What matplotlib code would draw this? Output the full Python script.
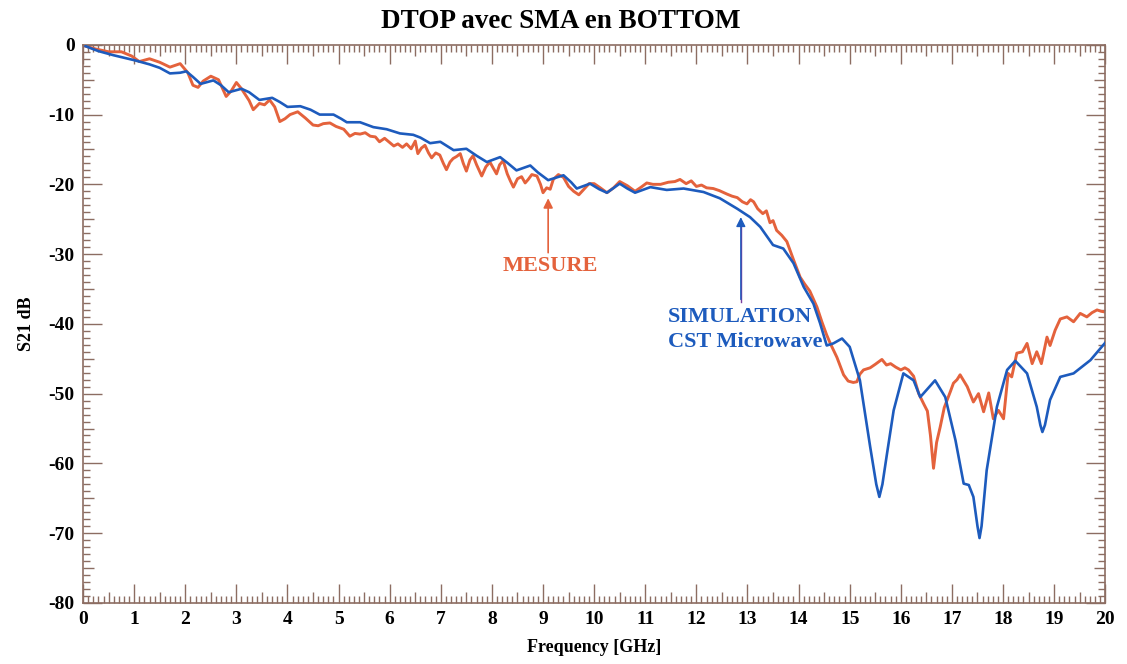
import matplotlib.pyplot as plt
import numpy as np

plt.rcParams['axes.unicode_minus'] = False

mes_f = [0.05, 0.25, 0.5, 0.75, 0.95, 1.1, 1.3, 1.5, 1.7, 1.9, 2.05, 2.15, 2.25, 2.35, 2.5, 2.65,
         2.8, 2.9, 3.0, 3.1, 3.25, 3.33, 3.45, 3.55, 3.65, 3.75, 3.85, 3.95, 4.05, 4.2, 4.35, 4.5,
         4.6, 4.7, 4.83, 4.95, 5.1, 5.22, 5.32, 5.42, 5.52, 5.62, 5.72, 5.8, 5.9, 6.0, 6.08, 6.16,
         6.25, 6.33, 6.42, 6.5, 6.55, 6.62, 6.69, 6.76, 6.82, 6.9, 6.98, 7.05, 7.11, 7.18, 7.24,
         7.31, 7.38, 7.44, 7.5, 7.57, 7.63, 7.7, 7.8, 7.88, 7.96, 8.02, 8.09, 8.15, 8.22, 8.3, 8.36,
         8.42, 8.5, 8.58, 8.65, 8.71, 8.78, 8.88, 8.95, 9.0, 9.07, 9.14, 9.2, 9.3, 9.4, 9.5, 9.6,
         9.7, 9.8, 9.9, 10.0, 10.12, 10.25, 10.38, 10.5, 10.65, 10.8, 10.92, 11.03, 11.15, 11.3,
         11.45, 11.58, 11.68, 11.8, 11.9, 12.0, 12.1, 12.2, 12.33, 12.45, 12.6, 12.7, 12.8, 12.9,
         12.99, 13.06, 13.12, 13.2, 13.3, 13.37, 13.44, 13.5, 13.57, 13.67, 13.77, 13.9, 14.03,
         14.12, 14.22, 14.36, 14.46, 14.55, 14.62, 14.75, 14.88, 14.97, 15.07, 15.14, 15.2, 15.27,
         15.4, 15.5, 15.63, 15.72, 15.8, 15.9, 16.0, 16.08, 16.15, 16.25, 16.35, 16.45, 16.52,
         16.58, 16.64, 16.7, 16.77, 16.85, 16.97, 17.03, 17.1, 17.16, 17.3, 17.42, 17.52, 17.62,
         17.72, 17.81, 17.91, 18.01, 18.1, 18.17, 18.27, 18.38, 18.47, 18.57, 18.66, 18.75, 18.86,
         18.92, 19.02, 19.12, 19.25, 19.38, 19.51, 19.64, 19.74, 19.84, 19.92, 20.0]
mes_db = [-0.2, -0.6, -1.0, -1.0, -1.6, -2.4, -2.0, -2.5, -3.2, -2.7, -4.0, -5.8, -6.1, -5.2, -4.5, -5.0,
          -7.4, -6.6, -5.4, -6.3, -8.0, -9.3, -8.4, -8.6, -7.9, -8.9, -11.0, -10.6, -10.0, -9.6, -10.5, -11.5,
          -11.6, -11.3, -11.2, -11.7, -12.1, -13.1, -12.7, -12.8, -12.6, -13.1, -13.2, -13.9, -13.4, -14.0, -14.5, -14.2,
          -14.7, -14.2, -14.9, -13.8, -15.6, -14.8, -14.4, -15.5, -16.2, -15.5, -15.8, -17.0, -17.9, -16.8, -16.3,
          -16.0, -15.6, -17.0, -18.1, -16.5, -15.9, -17.2, -18.8, -17.5, -16.8, -17.6, -18.5, -17.2, -16.6, -18.5, -19.5,
          -20.4, -19.2, -18.9, -19.8, -19.3, -18.6, -18.8, -20.0, -21.2, -20.5, -20.7, -19.3, -18.6, -19.0, -20.3, -21.0,
          -21.5, -20.7, -19.9, -19.9, -20.5, -21.2, -20.5, -19.6, -20.2, -21.0, -20.4, -19.8, -20.0, -20.0,
          -19.7, -19.6, -19.3, -19.9, -19.5, -20.3, -20.1, -20.5, -20.6, -20.9, -21.4, -21.7, -21.9, -22.5,
          -22.8, -22.2, -22.5, -23.5, -24.2, -23.8, -25.5, -25.2, -26.6, -27.3, -28.2, -30.8, -33.3,
          -34.3, -35.3, -37.6, -39.8, -41.6, -42.8, -44.8, -47.3, -48.2, -48.4, -48.3, -47.2, -46.6,
          -46.3, -45.8, -45.1, -45.9, -45.7, -46.2, -46.6, -46.3, -46.6, -47.5, -50.0, -51.5, -52.5,
          -56.0, -60.7, -57.0, -54.8, -52.0, -49.7, -48.5, -48.0, -47.3, -49.0, -51.2, -50.0, -52.6,
          -49.9, -53.6, -52.4, -53.6, -47.1, -47.6, -44.2, -44.0, -42.8, -45.7, -44.0, -45.7, -41.9,
          -43.1, -40.9, -39.3, -39.0, -39.7, -38.5, -39.0, -38.4, -38.0, -38.2, -38.3]

# CST simulation
sim_f = [0.05, 0.3, 0.6, 1.0, 1.3, 1.5, 1.7, 1.9, 2.02, 2.15, 2.3, 2.55, 2.7, 2.85, 3.1, 3.25, 3.45,
         3.7, 3.85, 4.0, 4.25, 4.45, 4.63, 4.9, 5.05, 5.16, 5.42, 5.68, 5.94, 6.2, 6.46, 6.6, 6.79,
         6.99, 7.25, 7.5, 7.7, 7.9, 8.16, 8.3, 8.48, 8.75, 8.9, 9.1, 9.4, 9.55, 9.66, 9.92, 10.1,
         10.25, 10.5, 10.65, 10.8, 11.1, 11.42, 11.75, 12.14, 12.46, 12.8, 13.05, 13.25, 13.5, 13.7,
         13.9, 14.1, 14.29, 14.42, 14.55, 14.68, 14.85, 15.0, 15.2, 15.4, 15.52, 15.58, 15.64, 15.73,
         15.86, 16.05, 16.25, 16.38, 16.67, 16.87, 17.07, 17.23, 17.33, 17.42, 17.5, 17.54, 17.58,
         17.68, 17.88, 18.08, 18.24, 18.47, 18.66, 18.73, 18.77, 18.82, 18.92, 19.12, 19.38, 19.71, 20.0]
sim_db = [-0.2, -0.9, -1.5, -2.2, -2.8, -3.3, -4.1, -4.0, -3.8, -4.6, -5.6, -5.1, -5.8, -6.8, -6.3, -6.8, -7.9,
          -7.6, -8.2, -8.9, -8.8, -9.3, -10.0, -10.0, -10.6, -11.1, -11.1, -11.8, -12.1, -12.7, -12.9, -13.3, -14.1,
          -13.9, -15.1, -14.9, -15.9, -16.8, -16.1, -16.9, -18.0, -17.3, -18.3, -19.4, -18.7, -19.7, -20.6, -19.9, -20.7,
          -21.2, -19.9, -20.6, -21.2, -20.4, -20.8, -20.6, -21.1, -22.0, -23.5, -24.7, -26.1, -28.7, -29.2,
          -31.3, -34.7, -37.1, -39.9, -43.1, -42.8, -42.1, -43.3, -48.1, -57.6, -63.0, -64.8, -63.0, -58.6,
          -52.4, -47.1, -48.1, -50.5, -48.1, -50.5, -56.7, -62.9, -63.1, -64.8, -69.0, -70.7, -69.0,
          -61.0, -51.9, -46.6, -45.3, -47.1, -51.9, -54.5, -55.5, -54.5, -50.9, -47.6, -47.1, -45.2, -42.7]

red = '#e4623c'
blue = '#1d5bbd'
frame = '#8c6d62'
font = 'Liberation Serif'

fig = plt.figure(figsize=(11.27, 6.64), dpi=100)
ax = fig.add_axes([0.0737, 0.092, 0.907, 0.8405])

ax.plot(mes_f, mes_db, color=red, lw=2.1, zorder=2)
ax.plot(sim_f, sim_db, color=blue, lw=1.9, zorder=3)

ax.set_xlim(0, 20)
ax.set_ylim(-80, 0)
ax.set_xticks(np.arange(0, 21, 1))
ax.set_yticks(np.arange(-80, 1, 10))
ax.set_xticks(np.arange(0, 20.01, 0.1), minor=True)
ax.set_yticks(np.arange(-80, 0.01, 1), minor=True)

for sp in ax.spines.values():
    sp.set_color(frame)
    sp.set_linewidth(1.2)
ax.tick_params(which='both', direction='in', top=True, right=True, colors=frame, width=1.0)
ax.tick_params(which='major', length=14, pad=6, labelcolor='black')
ax.tick_params(which='minor', length=5)

# longer ticks at half steps (0.5 GHz, 5 dB)
xl = ax.xaxis.get_minorticklocs()
for loc, t in zip(xl, ax.xaxis.get_minor_ticks(len(xl))):
    if abs(loc * 2 - round(loc * 2)) < 1e-6 and abs(loc - round(loc)) > 1e-6:
        t.tick1line.set_markersize(8)
        t.tick2line.set_markersize(8)
yl = ax.yaxis.get_minorticklocs()
for loc, t in zip(yl, ax.yaxis.get_minor_ticks(len(yl))):
    if abs(loc % 5) < 1e-6 and abs(loc % 10) > 1e-6:
        t.tick1line.set_markersize(8)
        t.tick2line.set_markersize(8)

for lab in ax.get_xticklabels() + ax.get_yticklabels():
    lab.set_fontfamily(font)
    lab.set_fontweight('bold')
    lab.set_fontsize(14)

ax.set_xlabel('Frequency [GHz]', fontfamily=font, fontweight='bold', fontsize=13, labelpad=8)
ax.set_ylabel('S21 dB', fontfamily=font, fontweight='bold', fontsize=13, labelpad=10)
fig.text(0.498, 0.968, 'DTOP avec SMA en BOTTOM', ha='center', va='center',
         fontfamily=font, fontweight='bold', fontsize=19.5)

# annotations
ax.annotate('', xy=(9.1, -21.6), xytext=(9.1, -30.2),
            arrowprops=dict(arrowstyle='-|>', color=red, lw=1.2, mutation_scale=14))
ax.text(9.15, -31.7, 'MESURE', color=red, ha='center', va='center',
        fontfamily=font, fontweight='bold', fontsize=16)

ax.annotate('', xy=(12.87, -24.3), xytext=(12.87, -36.9),
            arrowprops=dict(arrowstyle='-|>', color='#7b3f9e', lw=1.0, mutation_scale=14,
                            fc=blue, ec=blue))
ax.plot([12.87, 12.87], [-36.9, -25.5], color='#7b3f9e', lw=1.0)
ax.text(11.45, -39.0, 'SIMULATION', color=blue, ha='left', va='center',
        fontfamily=font, fontweight='bold', fontsize=16)
ax.text(11.45, -42.6, 'CST Microwave', color=blue, ha='left', va='center',
        fontfamily=font, fontweight='bold', fontsize=16)

fig.savefig('out.png', dpi=100)
